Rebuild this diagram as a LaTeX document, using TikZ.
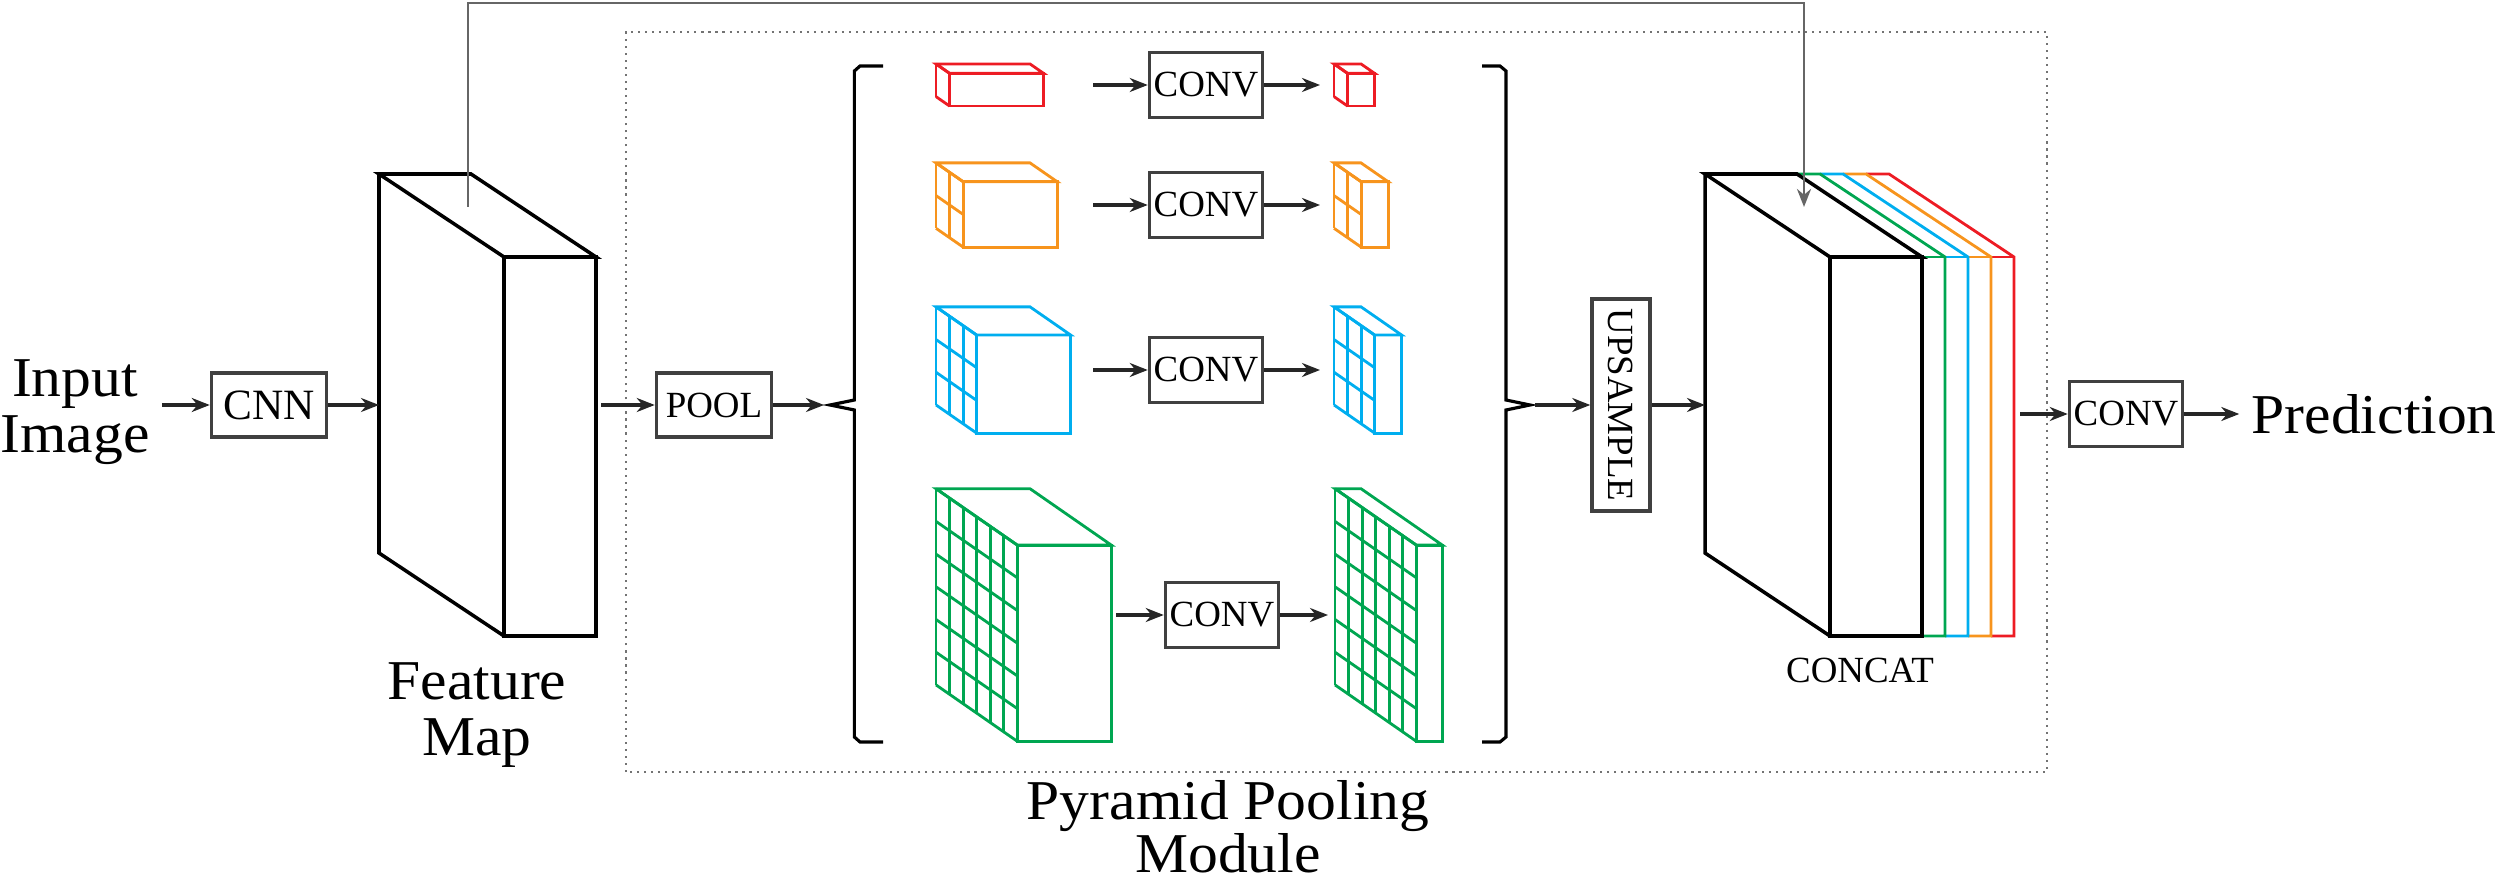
\documentclass[tikz,border=0pt]{standalone}
\usepackage{fontspec}
\setmainfont{Liberation Serif}
\newfontfamily\widefont{Liberation Serif}[FakeStretch=1.06]
\newcommand{\tightlines}{\lineskiplimit=-8pt\relax}
\usetikzlibrary{arrows.meta,positioning}
\definecolor{pyrred}{RGB}{237,28,36}
\definecolor{pyrorange}{RGB}{247,148,29}
\definecolor{pyrblue}{RGB}{0,174,239}
\definecolor{pyrgreen}{RGB}{0,166,81}

% cuboid with a grid on its side: colour, cells, back-left x, centre y, front width
\newcommand{\gridbox}[5]{%
  \begin{scope}[shift={(#3,#4)}, #1, line width=0.8pt]
    \pgfmathsetmacro{\gbtop}{#2*0.2105}
    \pgfmathsetmacro{\gbdx}{#2*0.1355}
    \pgfmathsetmacro{\gbft}{\gbtop-#2*0.094}
    \draw (0,\gbtop) -- (#5,\gbtop) -- (\gbdx+#5,\gbft) -- (\gbdx,\gbft) -- cycle;
    \draw (\gbdx,\gbft) rectangle (\gbdx+#5,-\gbtop);
    \foreach \i in {0,...,#2} {
      \draw (\i*0.1355,\gbtop-\i*0.094) -- ++(0,-#2*0.327);
      \draw (0,\gbtop-\i*0.327) -- ++(\gbdx,-#2*0.094);
    }
  \end{scope}}

\begin{document}
\begin{tikzpicture}[
  opbox/.style={draw=black!75, line width=1pt, minimum width=1.13cm, minimum height=0.65cm, inner sep=1pt, font=\fontsize{10.5}{12}\selectfont},
  arr/.style={-{Stealth[length=1.8mm,width=1.4mm]}, line width=0.9pt, black!85},
  cube/.style={line width=1pt},
  biglabel/.style={align=center, font=\widefont\fontsize{16}{16}\selectfont}]
\useasboundingbox (0,0) rectangle (25,8.8);

% pyramid pooling module
\draw[black!55, line width=0.8pt, dash pattern=on 0.6pt off 1.4pt] (6.26,1.08) rectangle (20.47,8.48);
\node[biglabel, font=\widefont\fontsize{16}{15}\selectfont\tightlines] (ppmlabel) at (12.28,0.53) {Pyramid Pooling\\Module};

% input and feature map
\node[biglabel] (input) at (0.75,4.68) {Input\\Image};
\node[opbox, minimum width=1.15cm, minimum height=0.64cm, font=\fontsize{12.3}{14}\selectfont] (cnn) at (2.69,4.75) {CNN};
\draw[cube] (3.79,7.06) -- (4.71,7.06) -- (5.96,6.23) -- (5.04,6.23) -- cycle;
\draw[cube] (5.04,2.44) rectangle (5.96,6.23);
\draw[cube] (3.79,7.06) -- (3.79,3.27) -- (5.04,2.44);
\node[biglabel] (fmlabel) at (4.77,1.65) {Feature\\Map};
\coordinate (fmin) at (3.79,4.75);
\coordinate (fmout) at (6.01,4.75);
\node[opbox, minimum width=1.15cm, minimum height=0.64cm] (pool) at (7.14,4.75) {POOL};
\draw[arr] (input.east |- cnn) -- (cnn);
\draw[arr] (cnn) -- (fmin);
\draw[arr] (fmout) -- (pool);

% braces
\coordinate (lbtip) at (8.30,4.75);
\coordinate (rbtip) at (15.30,4.75);
\draw[line width=0.9pt] (8.83,8.14) -- (8.60,8.14) -- (8.544,8.09) -- (8.544,4.80) -- (lbtip) -- (8.544,4.70) -- (8.544,1.43) -- (8.60,1.38) -- (8.83,1.38);
\draw[line width=0.9pt] (14.82,8.14) -- (15.00,8.14) -- (15.06,8.09) -- (15.06,4.80) -- (rbtip) -- (15.06,4.70) -- (15.06,1.43) -- (15.00,1.38) -- (14.82,1.38);
\draw[arr, shorten >=0.6mm] (pool) -- (lbtip);

% pyramid levels
\gridbox{pyrred}{1}{9.36}{7.95}{0.94}
\gridbox{pyrorange}{2}{9.36}{6.75}{0.94}
\gridbox{pyrblue}{3}{9.36}{5.10}{0.94}
\gridbox{pyrgreen}{6}{9.36}{2.65}{0.94}
\gridbox{pyrred}{1}{13.34}{7.95}{0.27}
\gridbox{pyrorange}{2}{13.34}{6.75}{0.27}
\gridbox{pyrblue}{3}{13.34}{5.10}{0.27}
\gridbox{pyrgreen}{6}{13.35}{2.65}{0.26}
\foreach \n/\y in {1/7.95, 2/6.75, 3/5.10} {
  \node[opbox] (conv\n) at (12.06,\y) {CONV};
  \coordinate (in\n) at (10.93,\y);
  \coordinate (out\n) at (13.20,\y);
  \draw[arr] (in\n) -- (conv\n);
  \draw[arr] (conv\n) -- (out\n);
}
\node[opbox] (conv4) at (12.22,2.65) {CONV};
\coordinate (in4) at (11.16,2.65);
\coordinate (out4) at (13.28,2.65);
\draw[arr] (in4) -- (conv4);
\draw[arr] (conv4) -- (out4);

% upsample and concat
\node[opbox, rotate=-90, minimum width=2.12cm, minimum height=0.58cm] (up) at (16.21,4.75) {UPSAMPLE};
\draw[arr, shorten <=0.5mm] (rbtip) -- (up);
\foreach \c/\l/\r in {pyrred/19.91/20.14, pyrorange/19.68/19.91, pyrblue/19.45/19.68, pyrgreen/19.22/19.45} {
  \draw[\c, line width=0.8pt] (\l-1.25,7.06) -- (\r-1.25,7.06) -- (\r,6.23) -- (\r,2.44) -- (\l,2.44);
  \draw[\c, line width=0.8pt] (\l,6.23) -- (\r,6.23);
}
\draw[cube] (17.05,7.06) -- (17.97,7.06) -- (19.22,6.23) -- (18.30,6.23) -- cycle;
\draw[cube] (18.30,2.44) rectangle (19.22,6.23);
\draw[cube] (17.05,7.06) -- (17.05,3.27) -- (18.30,2.44);
\node[font=\fontsize{10.5}{12}\selectfont] (catlabel) at (18.60,2.10) {CONCAT};
\coordinate (catin) at (17.05,4.75);
\draw[arr] (up) -- (catin);

% skip connection
\coordinate (skipa) at (4.68,6.73);
\coordinate (skipb) at (18.04,6.73);
\draw[arr, black!60, line width=0.8pt] (skipa) -- ++(0,2.04) -| (skipb);

% output
\coordinate (catout) at (20.20,4.66);
\node[opbox] (conv5) at (21.26,4.66) {CONV};
\node[biglabel, right=0.55cm of conv5] (pred) {Prediction};
\draw[arr] (catout) -- (conv5);
\draw[arr] (conv5) -- (pred);
\end{tikzpicture}
\end{document}
